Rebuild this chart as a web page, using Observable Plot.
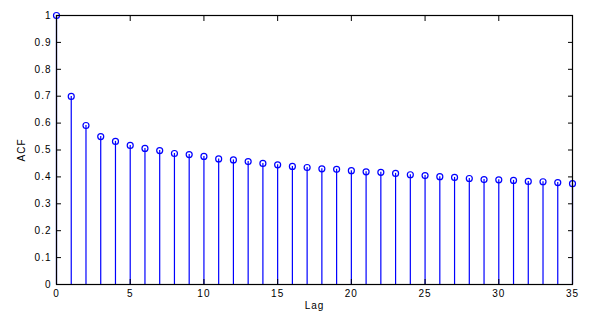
<!DOCTYPE html>
<html>
<head>
<meta charset="utf-8">
<script src="https://cdn.jsdelivr.net/npm/d3@7"></script>
<script src="https://cdn.jsdelivr.net/npm/@observablehq/plot@0.6"></script>
<style>
  html, body { margin: 0; padding: 0; background: #fff; }
  svg { font-family: "Liberation Sans", Arial, sans-serif; }
  svg text { letter-spacing: 1px; }
</style>
</head>
<body>
<div id="chart"></div>
<script>
const lags = d3.range(0, 36);
const acf = [1.000, 0.699, 0.591, 0.550, 0.532, 0.517, 0.506, 0.498, 0.487, 0.483,
             0.476, 0.467, 0.463, 0.457, 0.450, 0.445, 0.439, 0.435, 0.430, 0.428,
             0.423, 0.419, 0.417, 0.413, 0.408, 0.405, 0.401, 0.398, 0.394, 0.390,
             0.389, 0.387, 0.383, 0.382, 0.379, 0.375];
const xTicks = [0, 5, 10, 15, 20, 25, 30, 35];
const yTicks = [0, 0.1, 0.2, 0.3, 0.4, 0.5, 0.6, 0.7, 0.8, 0.9, 1];
const xLabel = "Lag";
const yLabel = "ACF";

const data = lags.map((l, i) => ({lag: l, acf: acf[i]}));
const blue = "#0000ff";

const chart = Plot.plot({
  width: 596,
  height: 321,
  marginLeft: 56,
  marginRight: 24,
  marginTop: 15,
  marginBottom: 37,
  style: {fontSize: "10px", fontFamily: "Liberation Sans, Arial, sans-serif", color: "#000", background: "#fff"},
  x: {domain: [0, 35]},
  y: {domain: [0, 1]},
  marks: [
    Plot.ruleX(data, {x: "lag", y1: 0, y2: "acf", stroke: blue, strokeWidth: 1.2}),
    Plot.dot(data, {x: "lag", y: "acf", r: 3, stroke: blue, strokeWidth: 1.2, fill: "none"}),
    Plot.frame({stroke: "#000", strokeWidth: 1.2}),
    // tick labels
    Plot.axisX({ticks: xTicks, tickSize: 0, tickPadding: 5, tickFormat: d => String(d), label: xLabel, labelAnchor: "center", labelArrow: false, labelOffset: 24}),
    Plot.axisY({ticks: yTicks, tickSize: 0, tickPadding: 5, tickFormat: d => d === 0 || d === 1 ? String(d) : d3.format(".1f")(d), label: yLabel, labelAnchor: "center", labelArrow: false, labelOffset: 39}),
    // inward ticks on all sides
    Plot.axisX({ticks: xTicks, anchor: "bottom", tickSize: -5, tickFormat: () => "", label: null}),
    Plot.axisX({ticks: xTicks, anchor: "top", tickSize: -5, tickFormat: () => "", label: null}),
    Plot.axisY({ticks: yTicks, anchor: "left", tickSize: -5, tickFormat: () => "", label: null}),
    Plot.axisY({ticks: yTicks, anchor: "right", tickSize: -5, tickFormat: () => "", label: null})
  ]
});
document.getElementById("chart").appendChild(chart);
</script>
</body>
</html>
